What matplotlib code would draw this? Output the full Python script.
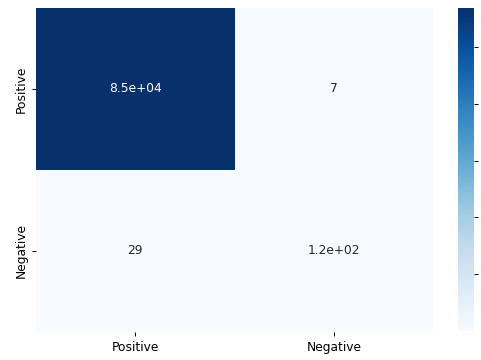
import numpy as np
import matplotlib
matplotlib.use("Agg")
import matplotlib.pyplot as plt
import seaborn as sns

# confusion matrix values
labels = ["Positive", "Negative"]
row_positive = [85300, 7]
row_negative = [29, 118]
cbar_ticks = [15000, 30000, 45000, 60000, 75000]

cm = np.array([row_positive, row_negative])

DPI = 88
W, H = 481, 360
fig = plt.figure(figsize=(W / DPI, H / DPI), dpi=DPI)
ax = fig.add_axes([36 / W, 1 - 332 / H, (433 - 36) / W, (332 - 8) / H])
cax = fig.add_axes([458 / W, 1 - 331 / H, 16 / W, (331 - 8) / H])

sns.heatmap(cm, annot=True, cmap="Blues", ax=ax, cbar_ax=cax,
            xticklabels=labels, yticklabels=labels)

cax.set_yticks(cbar_ticks)
cax.set_yticklabels([])

fig.savefig("out.png", dpi=DPI)
